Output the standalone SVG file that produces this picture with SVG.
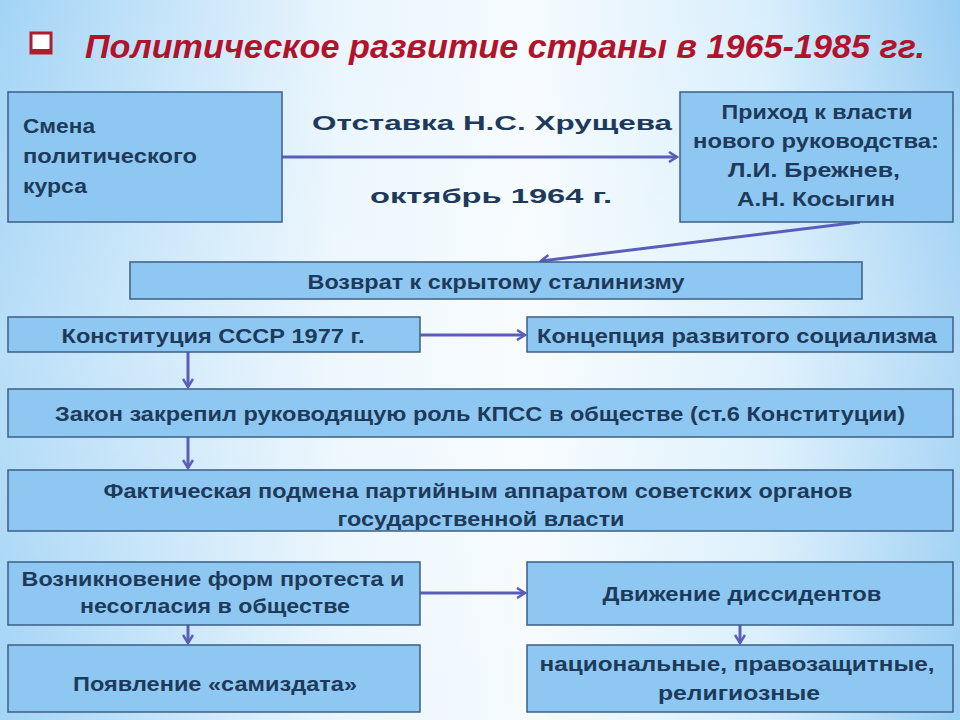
<svg xmlns="http://www.w3.org/2000/svg" width="960" height="720" viewBox="0 0 960 720">
<defs>
<linearGradient id="bg" x1="0" y1="0" x2="1" y2="0">
<stop offset="0" stop-color="#a3d4f6"/>
<stop offset="0.35" stop-color="#e9f5fd"/>
<stop offset="0.55" stop-color="#f6fbfe"/>
<stop offset="0.8" stop-color="#d8eefc"/>
<stop offset="1" stop-color="#98cdf3"/>
</linearGradient>
<linearGradient id="bgv" x1="0" y1="0" x2="0" y2="1">
<stop offset="0" stop-color="#ffffff" stop-opacity="0"/>
<stop offset="0.5" stop-color="#ffffff" stop-opacity="0.25"/>
<stop offset="1" stop-color="#ffffff" stop-opacity="0"/>
</linearGradient>
<marker id="ah" viewBox="0 0 12 12" refX="10" refY="6" markerWidth="12" markerHeight="12" markerUnits="userSpaceOnUse" orient="auto">
<polyline points="2,1 10,6 2,11" fill="none" stroke="#5a5eb8" stroke-width="2.5"/>
</marker>
<style>
.box{fill:#8ec8f2;stroke:#3b5f86;stroke-width:1.5}
.t{font-family:"Liberation Sans","DejaVu Sans",sans-serif;font-weight:bold;fill:#1e3a5a;font-size:21px}
.c{text-anchor:middle}
.con{stroke:#5a5eb8;stroke-width:3;fill:none;marker-end:url(#ah)}
</style>
</defs>
<rect width="960" height="720" fill="url(#bg)"/>
<rect width="960" height="720" fill="url(#bgv)"/>

<g id="title">
<rect x="31" y="33" width="20" height="20" fill="#fff" stroke="#b01c2e" stroke-width="3"/>
<rect x="31" y="49" width="20" height="5" fill="#b01c2e"/>
<text x="85" y="58" font-family="'Liberation Sans','DejaVu Sans',sans-serif" font-weight="bold" font-style="italic" font-size="34" fill="#b0132b" textLength="840" lengthAdjust="spacingAndGlyphs">Политическое развитие страны в 1965-1985 гг.</text>
</g>

<g id="connectors">
<line class="con" x1="282" y1="157" x2="677" y2="157"/>
<line class="con" x1="860" y1="222" x2="541" y2="261"/>
<line class="con" x1="420" y1="335" x2="525" y2="335"/>
<line class="con" x1="188" y1="352" x2="188" y2="387"/>
<line class="con" x1="188" y1="437" x2="188" y2="468"/>
<line class="con" x1="420" y1="593" x2="525" y2="593"/>
<line class="con" x1="188" y1="625" x2="188" y2="643"/>
<line class="con" x1="740" y1="625" x2="740" y2="643"/>
</g>

<g id="resignation-label">
<text class="t" x="312" y="130" font-size="26" textLength="360" lengthAdjust="spacingAndGlyphs">Отставка Н.С. Хрущева</text>
<text class="t" x="370" y="203" font-size="26" textLength="242" lengthAdjust="spacingAndGlyphs">октябрь 1964 г.</text>
</g>

<g id="n-smena">
<rect class="box" x="8" y="92" width="274" height="130"/>
<text class="t" x="23" y="133" textLength="72" lengthAdjust="spacingAndGlyphs">Смена</text>
<text class="t" x="23" y="163" textLength="174" lengthAdjust="spacingAndGlyphs">политического</text>
<text class="t" x="23" y="193" textLength="64" lengthAdjust="spacingAndGlyphs">курса</text>
</g>

<g id="n-prikhod">
<rect class="box" x="680" y="92" width="273" height="130"/>
<text class="t c" x="817" y="119" textLength="191" lengthAdjust="spacingAndGlyphs">Приход к власти</text>
<text class="t c" x="816" y="148" textLength="246" lengthAdjust="spacingAndGlyphs">нового руководства:</text>
<text class="t c" x="814" y="177" textLength="172" lengthAdjust="spacingAndGlyphs">Л.И. Брежнев,</text>
<text class="t c" x="816" y="206" textLength="158" lengthAdjust="spacingAndGlyphs">А.Н. Косыгин</text>
</g>

<g id="n-vozvrat">
<rect class="box" x="130" y="262" width="732" height="37"/>
<text class="t c" x="496" y="289" textLength="377" lengthAdjust="spacingAndGlyphs">Возврат к скрытому сталинизму</text>
</g>

<g id="n-konstitutsiya">
<rect class="box" x="8" y="317" width="412" height="35"/>
<text class="t c" x="213" y="343" textLength="303" lengthAdjust="spacingAndGlyphs">Конституция СССР 1977 г.</text>
</g>

<g id="n-kontseptsiya">
<rect class="box" x="527" y="317" width="426" height="35"/>
<text class="t c" x="737" y="343" textLength="400" lengthAdjust="spacingAndGlyphs">Концепция развитого социализма</text>
</g>

<g id="n-zakon">
<rect class="box" x="8" y="389" width="945" height="48"/>
<text class="t c" x="480" y="421" textLength="850" lengthAdjust="spacingAndGlyphs">Закон закрепил руководящую роль КПСС в обществе (ст.6 Конституции)</text>
</g>

<g id="n-podmena">
<rect class="box" x="8" y="470" width="945" height="61"/>
<text class="t c" x="478" y="498" textLength="749" lengthAdjust="spacingAndGlyphs">Фактическая подмена партийным аппаратом советских органов</text>
<text class="t c" x="481" y="526" textLength="287" lengthAdjust="spacingAndGlyphs">государственной власти</text>
</g>

<g id="n-protest">
<rect class="box" x="8" y="562" width="412" height="63"/>
<text class="t c" x="213" y="586" textLength="383" lengthAdjust="spacingAndGlyphs">Возникновение форм протеста и</text>
<text class="t c" x="215" y="613" textLength="270" lengthAdjust="spacingAndGlyphs">несогласия в обществе</text>
</g>

<g id="n-dissidenty">
<rect class="box" x="527" y="562" width="426" height="63"/>
<text class="t c" x="742" y="601" textLength="279" lengthAdjust="spacingAndGlyphs">Движение диссидентов</text>
</g>

<g id="n-samizdat">
<rect class="box" x="8" y="645" width="412" height="67"/>
<text class="t c" x="215" y="691" textLength="284" lengthAdjust="spacingAndGlyphs">Появление «самиздата»</text>
</g>

<g id="n-vidy">
<rect class="box" x="527" y="645" width="426" height="67"/>
<text class="t c" x="737" y="671" textLength="395" lengthAdjust="spacingAndGlyphs">национальные, правозащитные,</text>
<text class="t c" x="739" y="700" textLength="162" lengthAdjust="spacingAndGlyphs">религиозные</text>
</g>
</svg>
